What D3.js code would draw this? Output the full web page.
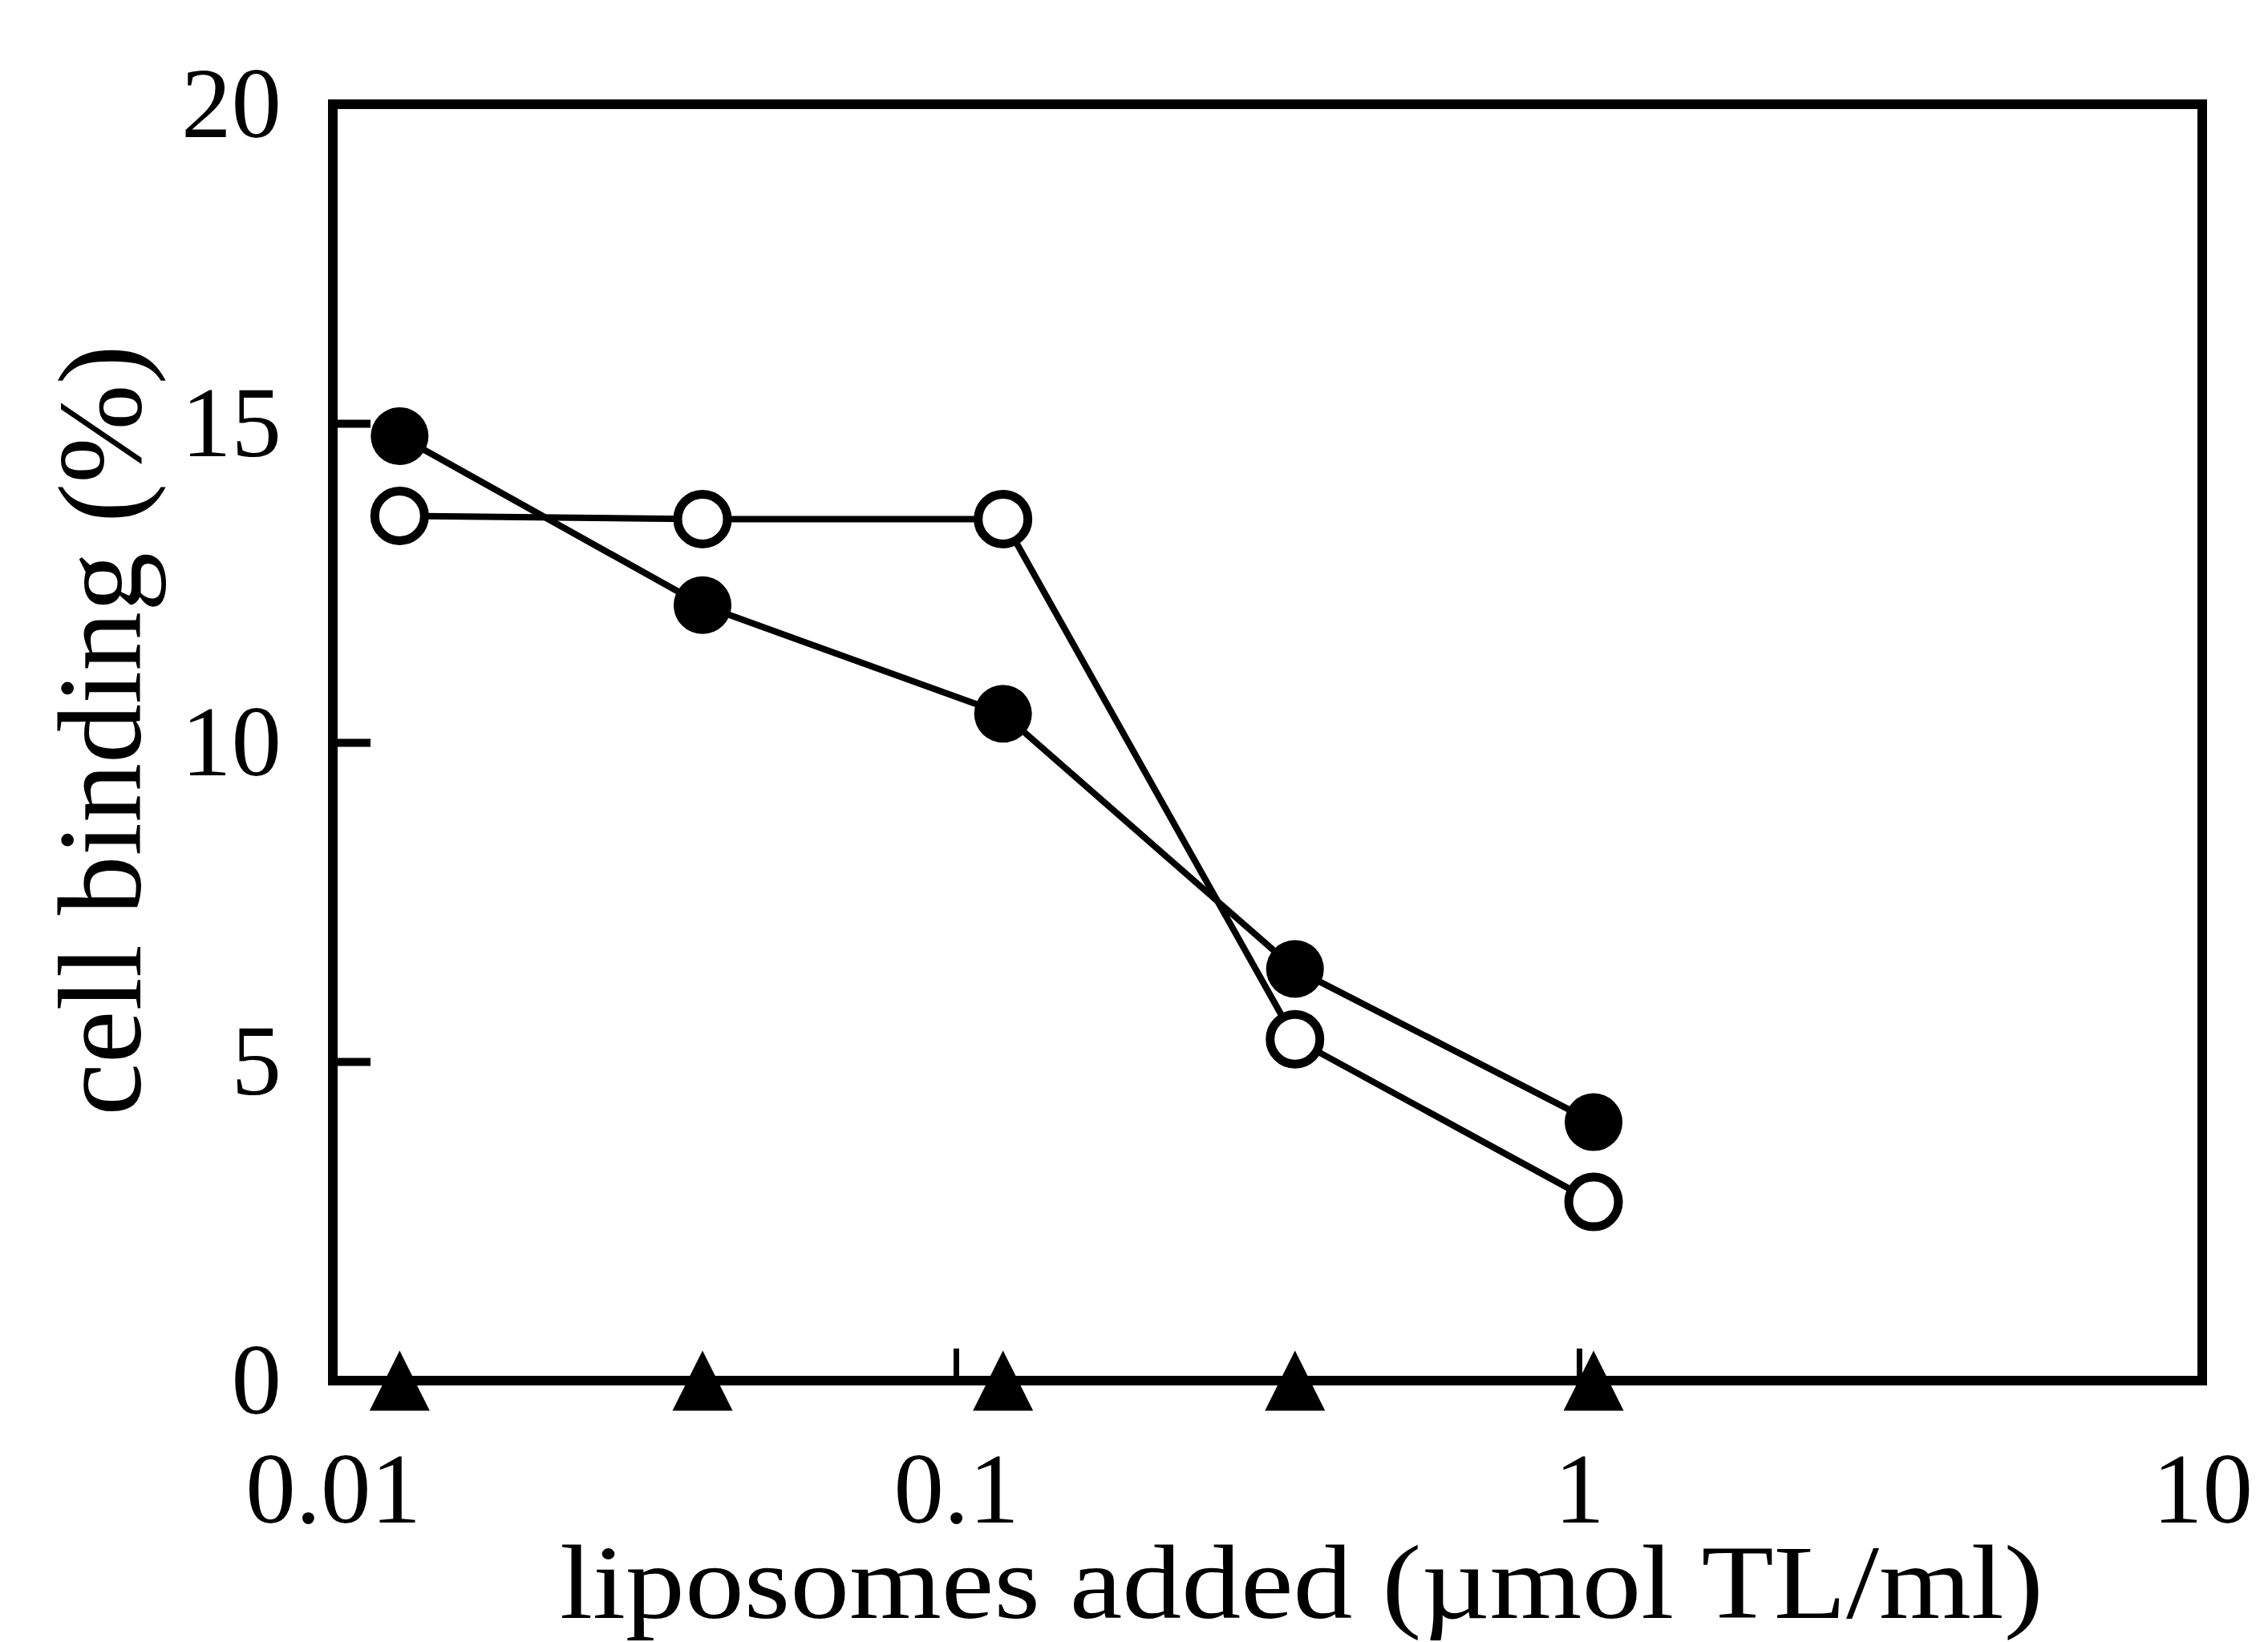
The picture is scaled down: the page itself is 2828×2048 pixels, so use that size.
<!DOCTYPE html>
<html>
<head>
<meta charset="utf-8">
<script src="https://cdn.jsdelivr.net/npm/d3@7"></script>
<style>
  body { margin: 0; background: #fff; }
  svg { display: block; }
  text { font-family: "Liberation Serif", "Times New Roman", serif; fill: #000; }
</style>
</head>
<body>
<svg width="2828" height="2048"></svg>
<script>
// liposome concentration (umol TL/ml)
var doses = [0.0128, 0.0392, 0.119, 0.35, 1.055];
// cell binding (%) per series
var filledCircles = [14.8, 12.15, 10.45, 6.45, 4.05];
var openCircles = [13.55, 13.5, 13.5, 5.35, 2.8];
var filledTriangles = [0, 0, 0, 0, 0];

var xTicks = [0.01, 0.1, 1, 10];
var xTickLabels = ['0.01', '0.1', '1', '10'];
var yTicks = [0, 5, 10, 15, 20];

var svg = d3.select('svg');

// plot box (note: "top" is reserved on window, so use other names)
var plotL = 415, plotR = 2746, plotT = 130, plotB = 1722;

var x = d3.scaleLog()
    .domain([0.01, 10])
    .range([plotL, plotR]);

var y = d3.scaleLinear()
    .domain([0, 20])
    .range([plotB, plotT]);

// frame
svg.append('rect')
    .attr('x', plotL)
    .attr('y', plotT)
    .attr('width', plotR - plotL)
    .attr('height', plotB - plotT)
    .attr('fill', 'none')
    .attr('stroke', '#000')
    .attr('stroke-width', 12);

// x axis, ticks pointing inward
var xAxis = d3.axisBottom(x)
    .tickValues(xTicks)
    .tickFormat((d, i) => xTickLabels[i])
    .tickSize(-40)
    .tickPadding(88);
var gx = svg.append('g')
    .attr('transform', 'translate(0,' + plotB + ')')
    .call(xAxis);
gx.select('.domain').remove();
gx.selectAll('.tick line').attr('stroke', '#000').attr('stroke-width', 7);
gx.selectAll('.tick text')
    .attr('font-size', 125)
    .attr('dy', '0.71em');

// y axis
var yAxis = d3.axisLeft(y)
    .tickValues(yTicks)
    .tickSize(-47)
    .tickPadding(64);
var gy = svg.append('g')
    .attr('transform', 'translate(' + plotL + ',0)')
    .call(yAxis);
gy.select('.domain').remove();
gy.selectAll('.tick line').attr('stroke', '#000').attr('stroke-width', 10);
gy.selectAll('.tick text').attr('font-size', 125);

// axis titles (x title is set wide, like the scanned original)
svg.append('text')
    .attr('text-anchor', 'middle')
    .attr('x', 1623)
    .attr('y', 2018)
    .attr('font-size', 132)
    .attr('textLength', 1850)
    .attr('lengthAdjust', 'spacingAndGlyphs')
    .text('liposomes added (\u00b5mol TL/ml)');

svg.append('text')
    .attr('text-anchor', 'middle')
    .attr('transform', 'translate(175,911) rotate(-90)')
    .attr('font-size', 148)
    .text('cell binding (%)');

// lines
var line = d3.line()
    .x((d, i) => x(doses[i]))
    .y(d => y(d));

[filledCircles, openCircles, filledTriangles].forEach(function(vals) {
    svg.append('path')
        .datum(vals)
        .attr('d', line)
        .attr('fill', 'none')
        .attr('stroke', '#000')
        .attr('stroke-width', 8);
});

// markers
svg.selectAll('circle.filled')
    .data(filledCircles)
    .enter()
    .append('circle')
    .attr('class', 'filled')
    .attr('cx', (d, i) => x(doses[i]))
    .attr('cy', d => y(d))
    .attr('r', 36)
    .attr('fill', '#000');

svg.selectAll('circle.open')
    .data(openCircles)
    .enter()
    .append('circle')
    .attr('class', 'open')
    .attr('cx', (d, i) => x(doses[i]))
    .attr('cy', d => y(d))
    .attr('r', 31)
    .attr('fill', '#fff')
    .attr('stroke', '#000')
    .attr('stroke-width', 11);

// triangle marker, centred on its mid-height
var triangleType = {
    draw: function(context, size) {
        var w = Math.sqrt(size), h = w;
        context.moveTo(0, -h / 2);
        context.lineTo(w / 2, h / 2);
        context.lineTo(-w / 2, h / 2);
        context.closePath();
    }
};
var tri = d3.symbol().type(triangleType).size(75 * 75);
svg.selectAll('path.tri')
    .data(filledTriangles)
    .enter()
    .append('path')
    .attr('class', 'tri')
    .attr('d', tri)
    .attr('transform', (d, i) => 'translate(' + x(doses[i]) + ',' + y(d) + ')')
    .attr('fill', '#000');
</script>
</body>
</html>
